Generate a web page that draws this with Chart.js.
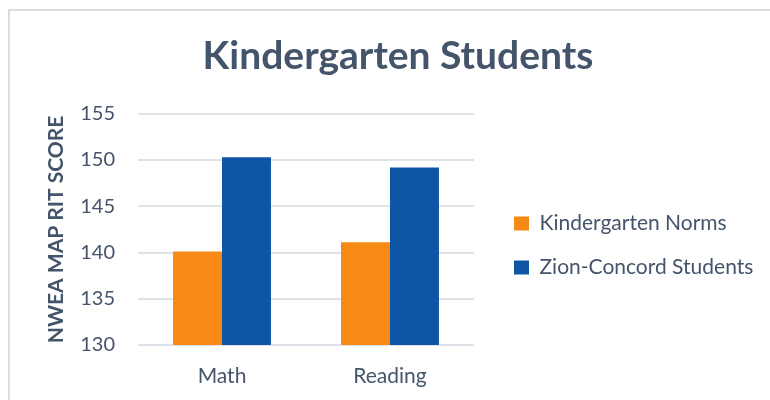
<!DOCTYPE html>
<html>
<head>
<meta charset="utf-8">
<script src="https://cdn.jsdelivr.net/npm/chart.js@4"></script>
<style>
  body { margin: 0; background: #fff; overflow: hidden; }
  #frame { position: absolute; left: 8px; top: 9px; width: 800px; height: 430px; border: 1px solid #d9dee4; border-width: 2px 0 0 2px; }
  #wrap { position: absolute; left: 0; top: 0; width: 770px; height: 400px; }
</style>
</head>
<body>
<div id="frame"></div>
<div id="wrap"><canvas id="kinder"></canvas></div>
<script>
// Data
var categories = ['Math', 'Reading']
var norms = [140.1, 141.1]
var zionConcord = [150.3, 149.2]
var yTicks = [130, 135, 140, 145, 150, 155]

var textColor = '#44546a'

// the layout caps a side legend at a quarter of the width, let it be wider
var wideLegend = {
    id: 'wideLegend',
    afterInit: function (chart) {
        var legend = chart.legend
        var update = legend.update
        legend.update = function (maxWidth, maxHeight, margins) {
            update.call(this, 400, maxHeight, margins)
            this.width = 279
        }
    }
}

var ctx = document.getElementById('kinder').getContext('2d');
var myChart = new Chart(ctx, {
    type: 'bar',
    data: {
        labels: categories,
        datasets: [{
            label: 'Kindergarten Norms',
            data: norms,
            backgroundColor: '#f68a14',
            yAxisID: 'y'
        }, {
            label: 'Zion-Concord Students',
            data: zionConcord,
            backgroundColor: '#0e56a5',
            yAxisID: 'y'
        }]
    },
    options: {
        responsive: true,
        maintainAspectRatio: false,
        animation: false,
        layout: { padding: { left: 26, right: 0, top: 0, bottom: 0 } },
        datasets: { bar: { categoryPercentage: 0.583, barPercentage: 1.0 } },
        plugins: {
            title: {
                display: true,
                text: 'Kindergarten Students',
                color: textColor,
                font: { family: 'Lato', size: 39, weight: 'bold' },
                padding: { top: 33, bottom: 34 }
            },
            legend: {
                position: 'right',
                fullSize: false,
                title: { display: true, text: ' ', font: { size: 10 }, padding: 10 },
                labels: {
                    color: textColor,
                    boxWidth: 15,
                    boxHeight: 14,
                    padding: 23,
                    font: { family: 'Lato', size: 21 }
                }
            },
            tooltip: { enabled: false }
        },
        scales: {
            x: {
                grid: { display: false, drawTicks: false },
                border: { display: false },
                ticks: { color: textColor, padding: 19, font: { family: 'Lato', size: 21 } },
                afterFit: function (s) { s.height = 55 }
            },
            y: {
                min: yTicks[0],
                max: yTicks[yTicks.length - 1],
                afterBuildTicks: function (s) { s.ticks = yTicks.map(function (v) { return { value: v } }) },
                grid: { color: '#dfe3e9', lineWidth: 2, drawTicks: false },
                border: { display: false },
                ticks: { color: textColor, padding: 23, font: { family: 'Lato', size: 20 } },
                title: {
                    display: true,
                    text: 'NWEA MAP RIT SCORE',
                    color: textColor,
                    font: { family: 'Lato', size: 21, weight: 'bold' },
                    padding: { top: 18 }
                },
                afterFit: function (s) { s.width = 112 }
            },
            yR: {
                position: 'right',
                display: true,
                grid: { display: false, drawTicks: false },
                border: { display: false },
                ticks: { display: false },
                afterFit: function (s) { s.width = 17 }
            }
        }
    },
    plugins: [wideLegend]
});
</script>
</body>
</html>
